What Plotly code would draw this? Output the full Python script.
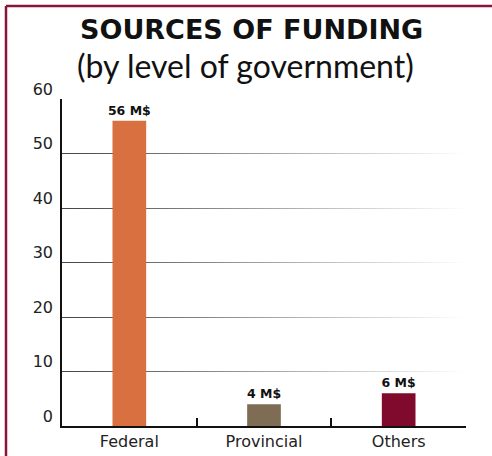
import plotly.graph_objects as go

categories = ["Federal", "Provincial", "Others"]
values = [56, 4, 6]
labels = ["56 M$", "4 M$", "6 M$"]
colors = ["#D87040", "#7E6C54", "#800A2D"]
y_ticks = [0, 10, 20, 30, 40, 50, 60]
y_max = 60

W, H = 492, 456
ml, mr, mt, mb = 62, 26, 99, 30
pw, ph = W - ml - mr, H - mt - mb
FONT = "DejaVu Sans"

fig = go.Figure()
# fading overlay for the gridlines (drawn on base axes, beneath the bars)
fig.add_trace(go.Scatter(
    x=[0, 1, 1, 0, 0], y=[0, 0, y_max, y_max, 0], mode="none", fill="toself",
    fillgradient=dict(type="horizontal",
                      colorscale=[[0, "rgba(255,255,255,0)"], [0.35, "rgba(255,255,255,0.35)"],
                                  [1, "rgba(255,255,255,1)"]]),
    hoverinfo="skip", showlegend=False, xaxis="x", yaxis="y",
))
fig.add_trace(go.Bar(
    x=categories, y=values, marker=dict(color=colors, line=dict(width=0)),
    text=labels, textposition="outside", cliponaxis=False, constraintext="none",
    textfont=dict(family=FONT, size=12.5, color="#111", weight="bold"),
    hoverinfo="skip", xaxis="x2", yaxis="y2",
))

border = "#8B1538"
def px_x(p):
    return (p - ml) / pw
def px_y(p):
    return (H - mb - p) / ph

fig.update_layout(
    width=W, height=H,
    margin=dict(l=ml, r=mr, t=mt, b=mb, autoexpand=False),
    paper_bgcolor="white", plot_bgcolor="white",
    bargap=0.75, showlegend=False,
    font=dict(family=FONT, color="#222"),
    xaxis=dict(range=[0, 1], visible=False, fixedrange=True, automargin=False),
    yaxis=dict(
        range=[0, y_max], tickvals=y_ticks, showline=True, linecolor="#111", linewidth=1.5,
        showgrid=True, gridcolor="#444", gridwidth=1.2, zeroline=False, automargin=False,
        tickfont=dict(size=16, color="#222"), ticklabelstandoff=4, ticklabelshift=-10,
    ),
    xaxis2=dict(
        overlaying="x", anchor="y2", automargin=False,
        showline=True, linecolor="#111", linewidth=2,
        ticks="inside", tickson="boundaries", ticklen=8, tickcolor="#111", tickwidth=1.5,
        tickfont=dict(size=16, color="#222"), showgrid=False,
    ),
    yaxis2=dict(overlaying="y", anchor="x2", range=[0, y_max], visible=False, showgrid=False,
                automargin=False),
    shapes=[
        dict(type="line", xref="paper", yref="paper", x0=px_x(6), x1=px_x(W), y0=px_y(6), y1=px_y(6),
             line=dict(color=border, width=2.5)),
        dict(type="line", xref="paper", yref="paper", x0=px_x(6), x1=px_x(6), y0=px_y(6), y1=px_y(H),
             line=dict(color=border, width=2.5)),
    ],
    annotations=[
        dict(text="<b>SOURCES OF FUNDING</b>", xref="paper", yref="paper", x=px_x(251), y=px_y(30),
             showarrow=False, xanchor="center", yanchor="middle",
             font=dict(family="DejaVu Sans", size=27, color="#111")),
        dict(text="(by level of government)", xref="paper", yref="paper", x=px_x(245), y=px_y(66),
             showarrow=False, xanchor="center", yanchor="middle",
             font=dict(family="Lato", size=32, color="#111")),
    ],
)

fig.write_html("out.html")
